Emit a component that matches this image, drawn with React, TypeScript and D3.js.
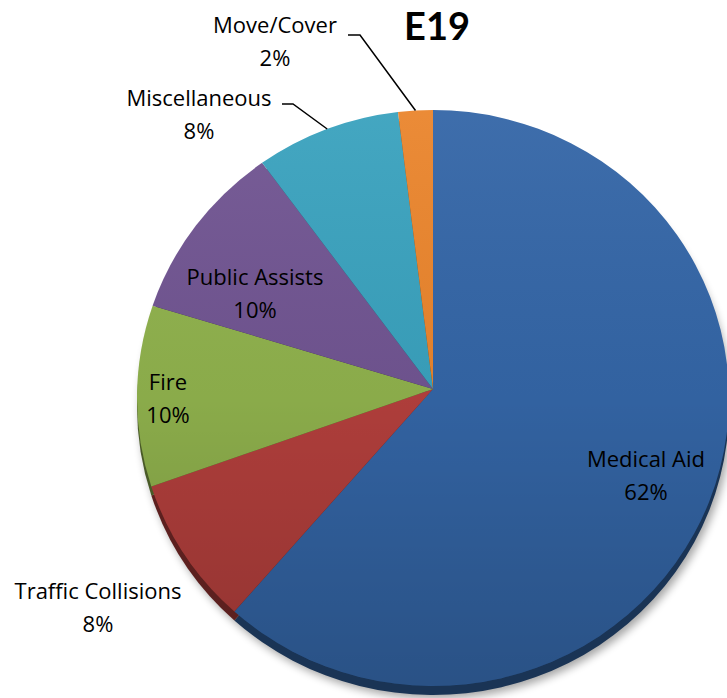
import * as d3 from 'd3';

// slice values (percent of calls)
const categories = ['Medical Aid', 'Traffic Collisions', 'Fire', 'Public Assists', 'Miscellaneous', 'Move/Cover'];
const values = [61.6, 8.1, 9.9, 10.1, 8.3, 2.0];
const colors = ['#3466a7', '#b5403d', '#90b24d', '#715592', '#3aa2be', '#ea852d'];
const title = 'E19';

// label anchors: centre x, first baseline y
const labelPos: [number, number][] = [[646, 467], [98, 599], [168, 390], [255, 285], [199, 106], [275, 33]];
// leader lines: [x start, x elbow, y] or null
const leaders: ([number, number, number] | null)[] = [null, null, null, null, [282, 293, 104], [348, 360, 35]];

const W = 727;
const H = 698;
const cx = 433;
const cy = 398;
const rx = 296;
const ry = 288;
const d = 9; // apex sits a little above the ellipse centre
const ax = cx;
const ay = cy - d;
const depth = 9;

const pointAt = (a: number): [number, number] => {
  const s = Math.sin(a);
  const c = Math.cos(a);
  const A = (s * s) / (rx * rx) + (c * c) / (ry * ry);
  const B = (2 * d * c) / (ry * ry);
  const C = (d * d) / (ry * ry) - 1;
  const t = (-B + Math.sqrt(B * B - 4 * A * C)) / (2 * A);
  return [ax + t * s, ay - t * c];
};

const param = (p: [number, number]) => Math.atan2((p[0] - cx) / rx, -(p[1] - cy) / ry);

const slicePath = (a0: number, a1: number) => {
  const p0 = pointAt(a0);
  const p1 = pointAt(a1);
  const tau = Math.PI * 2;
  const span = (((param(p1) - param(p0)) % tau) + tau) % tau;
  const large = span > Math.PI ? 1 : 0;
  return `M${ax},${ay}L${p0[0]},${p0[1]}A${rx},${ry} 0 ${large} 1 ${p1[0]},${p1[1]}Z`;
};

export default function App() {
  const pie = d3.pie<number>().sort(null).value((v) => v);
  const arcs = pie(values);
  const total = d3.sum(values);
  const font = '"Open Sans", sans-serif';

  return (
    <svg width={W} height={H} style={{ position: 'absolute', left: 0, top: 0 }}>
      <defs>
        <filter id="blur" x="-20%" y="-20%" width="140%" height="140%">
          <feGaussianBlur stdDeviation="4" />
        </filter>
        <linearGradient id="shade" x1="0" y1="0" x2="0" y2="1">
          <stop offset="0%" stopColor="#fff" stopOpacity={0.05} />
          <stop offset="50%" stopColor="#000" stopOpacity={0.04} />
          <stop offset="100%" stopColor="#000" stopOpacity={0.2} />
        </linearGradient>
      </defs>
      <rect width={W} height={H} fill="#fff" />

      <ellipse cx={cx + 3} cy={cy + depth + 4} rx={rx} ry={ry} fill="#000" opacity={0.35} filter="url(#blur)" />

      <g transform={`translate(0,${depth})`}>
        {arcs.map((a, i) => (
          <path key={i} d={slicePath(a.startAngle, a.endAngle)} fill={d3.color(colors[i])!.darker(1.9).formatHex()} />
        ))}
      </g>

      {arcs.map((a, i) => (
        <path key={i} d={slicePath(a.startAngle, a.endAngle)} fill={colors[i]} />
      ))}
      <ellipse cx={cx} cy={cy} rx={rx} ry={ry} fill="url(#shade)" />

      {arcs.map((a, i) => {
        const l = leaders[i];
        if (!l) return null;
        const m = pointAt((a.startAngle + a.endAngle) / 2);
        return (
          <polyline key={i} points={`${l[0]},${l[2]} ${l[1]},${l[2]} ${m[0]},${m[1]}`}
            fill="none" stroke="#000" strokeWidth={1.5} />
        );
      })}

      {arcs.map((a, i) => {
        const [x, y] = labelPos[i];
        const pct = Math.round((a.value / total) * 100);
        return (
          <text key={i} x={x} y={y} textAnchor="middle" fontFamily={font} fontSize={22} fill="#000">
            <tspan x={x}>{categories[i]}</tspan>
            <tspan x={x} dy={33}>{pct}%</tspan>
          </text>
        );
      })}

      <text x={437} y={40} textAnchor="middle" fontFamily='Lato, sans-serif' fontWeight="bold" fontSize={38} fill="#000">
        {title}
      </text>
    </svg>
  );
}
